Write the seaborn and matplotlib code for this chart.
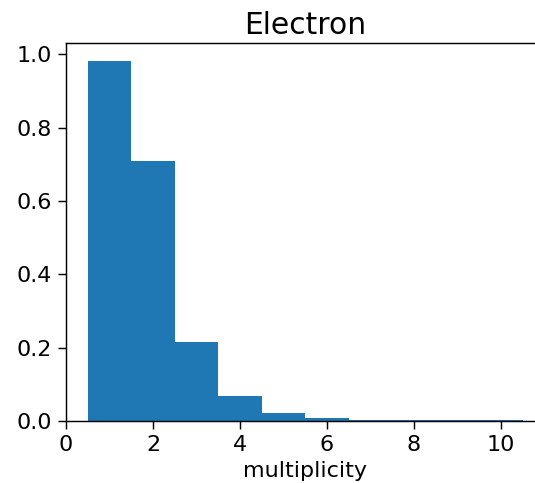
import matplotlib
matplotlib.use("Agg")
import matplotlib.pyplot as plt
import seaborn as sns
import numpy as np

multiplicity = [1, 2, 3, 4, 5, 6, 7, 8, 9, 10]
fraction = [0.982, 0.708, 0.215, 0.069, 0.023, 0.007, 0.003, 0.002, 0.002, 0.0015]
bin_edges = [0.5, 1.5, 2.5, 3.5, 4.5, 5.5, 6.5, 7.5, 8.5, 9.5, 10.5]

dpi = 130
fig = plt.figure(figsize=(535 / dpi, 483 / dpi), dpi=dpi)
ax = fig.add_axes([66 / 535, 62 / 483, 478.5 / 535, 378 / 483])

sns.histplot(x=multiplicity, weights=fraction, bins=bin_edges, ax=ax,
             color="#1f77b4", alpha=1.0, linewidth=0, edgecolor="none")

ax.set_xlim(0, 11)
ax.set_ylim(0, 0.982 * 1.05)
ax.set_xticks([0, 2, 4, 6, 8, 10])
ax.set_yticks([0.0, 0.2, 0.4, 0.6, 0.8, 1.0])
ax.tick_params(labelsize=12.3, length=4.5)
ax.set_ylabel("")
ax.set_xlabel("multiplicity", fontsize=12.3, labelpad=3)
ax.set_title("Electron", fontsize=16.5, pad=5)

fig.savefig("out.png", dpi=dpi)
